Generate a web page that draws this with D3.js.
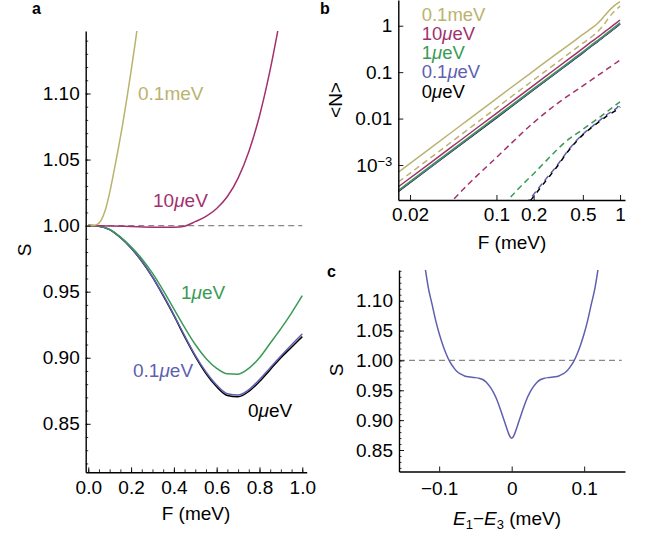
<!DOCTYPE html>
<html>
<head>
<meta charset="utf-8">
<script src="https://cdn.jsdelivr.net/npm/d3@7"></script>
<style>
  body { margin: 0; background: #fff; }
  svg { display: block; }
</style>
</head>
<body>
<svg id="fig" width="654" height="533"></svg>
<script>
// ---- data ----
// panel a: S vs F (meV)
var aKhakiF   = [0, 0.02, 0.04, 0.06, 0.08, 0.10, 0.12, 0.14, 0.16, 0.18, 0.20, 0.22, 0.24];
var aKhakiS   = [1, 1.0001, 1.0008, 1.004, 1.012, 1.025, 1.041, 1.058, 1.076, 1.096, 1.117, 1.139, 1.163];
var aMagentaF = [0, 0.1, 0.2, 0.3, 0.35, 0.4, 0.45, 0.5, 0.55, 0.6, 0.65, 0.7, 0.75, 0.8, 0.85, 0.9];
var aMagentaS = [1, 0.9998, 0.9993, 0.9988, 0.9987, 0.9988, 0.9996, 1.003, 1.007, 1.013, 1.022, 1.036, 1.056, 1.083, 1.118, 1.16];
var aLowF     = [0, 0.05, 0.1, 0.15, 0.2, 0.25, 0.3, 0.35, 0.4, 0.45, 0.5, 0.55, 0.6, 0.65, 0.7, 0.75, 0.8, 0.85, 0.9, 0.95, 1.0];
var aGreenS   = [1, 0.9995, 0.9972, 0.9915, 0.984, 0.975, 0.964, 0.951, 0.937, 0.923, 0.910, 0.8995, 0.892, 0.8878, 0.8876, 0.892, 0.900, 0.911, 0.922, 0.934, 0.947];
var aBlueS    = [1, 0.9995, 0.997, 0.991, 0.983, 0.9732, 0.9613, 0.9475, 0.9325, 0.9167, 0.9018, 0.8892, 0.8793, 0.8728, 0.8718, 0.8758, 0.8835, 0.8925, 0.9013, 0.9098, 0.918];
var aBlackS   = [1, 0.9995, 0.997, 0.991, 0.983, 0.973, 0.961, 0.947, 0.932, 0.916, 0.901, 0.888, 0.878, 0.8715, 0.8705, 0.8745, 0.882, 0.891, 0.900, 0.908, 0.916];

// panel b: <N> vs F (log-log), solid and dashed
var bSolidF   = [0.0161, 0.03, 0.05, 0.1, 0.2, 0.3, 0.4, 0.5, 0.6, 0.65, 0.7, 0.75, 0.8, 0.9, 1.0];
var bKhakiN   = [7.0e-4, 2.43e-3, 6.75e-3, 0.027, 0.107, 0.238, 0.415, 0.65, 0.92, 1.09, 1.33, 1.65, 2.0, 2.7, 3.3];
var bMagentaN = [3.4e-4, 1.17e-3, 3.25e-3, 0.013, 0.052, 0.117, 0.208, 0.325, 0.47, 0.55, 0.64, 0.74, 0.84, 1.07, 1.33];
var bGreenN   = [2.85e-4, 9.9e-4, 2.75e-3, 0.011, 0.044, 0.099, 0.176, 0.275, 0.40, 0.47, 0.545, 0.63, 0.72, 0.92, 1.16];
var bBlueN    = [2.75e-4, 9.5e-4, 2.65e-3, 0.0106, 0.0424, 0.095, 0.169, 0.264, 0.384, 0.45, 0.523, 0.605, 0.69, 0.88, 1.11];
var bBlackN   = [2.7e-4, 9.4e-4, 2.6e-3, 0.0104, 0.0418, 0.094, 0.167, 0.261, 0.38, 0.445, 0.517, 0.6, 0.68, 0.87, 1.1];
var bKhakiDF  = [0.0161, 0.03, 0.05, 0.1, 0.2, 0.3, 0.4, 0.5, 0.6, 0.65, 0.7, 0.75, 0.8, 0.9, 1.0];
var bKhakiDN  = [4.3e-4, 1.5e-3, 4.2e-3, 0.017, 0.068, 0.152, 0.27, 0.42, 0.6, 0.72, 0.88, 1.1, 1.42, 2.05, 2.65];
var bMagentaDF = [0.04, 0.0445, 0.06, 0.1, 0.2, 0.3, 0.5, 0.7, 0.85, 1.0];
var bMagentaDN = [1.3e-4, 1.76e-4, 4.0e-4, 1.45e-3, 8.2e-3, 0.0197, 0.0507, 0.094, 0.135, 0.182];
var bGreenDF  = [0.115, 0.124, 0.15, 0.2, 0.3, 0.35, 0.5, 0.7, 0.85, 1.0];
var bGreenDN  = [1.4e-4, 1.76e-4, 3.05e-4, 6.5e-4, 1.97e-3, 2.92e-3, 5.86e-3, 0.0112, 0.0166, 0.023];
var bBlueDF   = [0.175, 0.184, 0.2, 0.25, 0.3, 0.4, 0.5, 0.6, 0.7, 0.8, 0.9, 0.95, 1.0];
var bBlueDN   = [1.4e-4, 1.76e-4, 2.33e-4, 4.9e-4, 8.8e-4, 2.45e-3, 4.6e-3, 6.9e-3, 9.6e-3, 0.0127, 0.0154, 0.0174, 0.0212];
var bBlackDF  = [0.18, 0.19, 0.2, 0.25, 0.3, 0.4, 0.5, 0.6, 0.7, 0.8, 0.9, 0.95, 1.0];
var bBlackDN  = [1.4e-4, 1.76e-4, 2.1e-4, 4.5e-4, 8.3e-4, 2.35e-3, 4.45e-3, 6.7e-3, 9.1e-3, 0.0119, 0.0143, 0.0157, 0.018];

// panel c: S vs E1-E3 (meV)
var cE = [-0.121, -0.119, -0.115, -0.11, -0.105, -0.1, -0.095, -0.09, -0.085, -0.08, -0.075, -0.07, -0.065, -0.06, -0.055, -0.05, -0.045, -0.04, -0.035, -0.03, -0.025, -0.02, -0.015, -0.01, -0.005, -0.003, -0.001, 0,
          0.001, 0.003, 0.005, 0.01, 0.015, 0.02, 0.025, 0.03, 0.035, 0.04, 0.045, 0.05, 0.055, 0.06, 0.065, 0.07, 0.075, 0.08, 0.085, 0.09, 0.095, 0.1, 0.105, 0.11, 0.115, 0.119, 0.121];
var cS = [1.168, 1.152, 1.122, 1.095, 1.068, 1.045, 1.026, 1.01, 0.997, 0.988, 0.981, 0.977, 0.974, 0.9725, 0.972, 0.9712, 0.970, 0.968, 0.9635, 0.956, 0.946, 0.933, 0.916, 0.898, 0.880, 0.874, 0.8705, 0.8698,
          0.8705, 0.874, 0.880, 0.898, 0.916, 0.933, 0.946, 0.956, 0.9635, 0.968, 0.970, 0.9712, 0.972, 0.9725, 0.974, 0.977, 0.981, 0.988, 0.997, 1.01, 1.026, 1.045, 1.068, 1.095, 1.122, 1.152, 1.168];

var seriesLabels = ['0.1meV', '10\u03BCeV', '1\u03BCeV', '0.1\u03BCeV', '0\u03BCeV'];
var seriesColors = ['#bab36e', '#a3306f', '#3a9a55', '#5f5fb0', '#000000'];

var aYMajor = [0.85, 0.90, 0.95, 1.00, 1.05, 1.10];
var aXMajor = [0, 0.2, 0.4, 0.6, 0.8, 1.0];
var bYMajor = [1e-3, 0.01, 0.1, 1];
var bXMajor = [0.02, 0.1, 0.2, 0.5, 1];
var cYMajor = [0.85, 0.90, 0.95, 1.00, 1.05, 1.10];
var cXMajor = [-0.1, 0, 0.1];

// ---- drawing ----
var FONT = '"Liberation Sans", Arial, Helvetica, sans-serif';
var FS = 19;
var svg = d3.select('#fig').attr('font-family', FONT);

function zip(xs, ys) { return xs.map(function(x, i) { return [x, ys[i]]; }); }
function range(a, b, step) {
  var out = [];
  for (var i = 0; a + i * step <= b + 1e-9; i++) out.push(+(a + i * step).toFixed(4));
  return out;
}

function styleAxis(g) {
  g.attr('font-family', FONT).attr('font-size', FS);
  g.select('.domain').attr('stroke-width', 1.4);
  g.selectAll('.tick line').attr('stroke-width', 0.9);
}

function addLeft(x0, y, major, minor, fmt) {
  if (minor) {
    svg.append('g').attr('transform', 'translate(' + x0 + ',0)')
      .call(d3.axisLeft(y).tickValues(minor).tickSize(-2.5).tickFormat(''))
      .call(function(g) { g.select('.domain').remove(); g.selectAll('line').attr('stroke-width', 0.8); });
  }
  var g = svg.append('g').attr('transform', 'translate(' + x0 + ',0)')
    .call(d3.axisLeft(y).tickValues(major).tickSize(-5).tickSizeOuter(0).tickPadding(6).tickFormat(fmt));
  styleAxis(g);
  return g;
}

function addBottom(y0, x, major, minor, fmt, pad) {
  if (minor) {
    svg.append('g').attr('transform', 'translate(0,' + y0 + ')')
      .call(d3.axisBottom(x).tickValues(minor).tickSize(-3).tickFormat(''))
      .call(function(g) { g.select('.domain').remove(); g.selectAll('line').attr('stroke-width', 0.8); });
  }
  var g = svg.append('g').attr('transform', 'translate(0,' + y0 + ')')
    .call(d3.axisBottom(x).tickValues(major).tickSize(-5).tickSizeOuter(0).tickPadding(pad).tickFormat(fmt));
  styleAxis(g);
  return g;
}

function muText(sel, label) {
  var parts = label.split('\u03BC');
  sel.append('tspan').text(parts[0]);
  if (parts.length > 1) {
    sel.append('tspan').attr('font-style', 'italic').text('\u03BC');
    sel.append('tspan').text(parts[1]);
  }
}

function curve(g, x, y, pts, color, dash, offset) {
  g.append('path')
    .datum(pts)
    .attr('fill', 'none')
    .attr('stroke', color)
    .attr('stroke-width', 1.5)
    .attr('stroke-dasharray', dash || null)
    .attr('stroke-dashoffset', offset || null)
    .attr('d', d3.line().x(function(d) { return x(d[0]); }).y(function(d) { return y(d[1]); }).curve(d3.curveMonotoneX));
}

function clipRect(id, x0, y0, x1, y1) {
  svg.append('clipPath').attr('id', id).append('rect')
    .attr('x', x0).attr('y', y0).attr('width', x1 - x0).attr('height', y1 - y0);
  return svg.append('g').attr('clip-path', 'url(#' + id + ')');
}

var fmt2 = function(d) { return d.toFixed(2); };

// ===== panel a =====
var ax = d3.scaleLinear().domain([-0.012, 1.0206]).range([85.7, 306.7]);
var ay = d3.scaleLinear().domain([0.8133, 1.1473]).range([472.3, 31]);
var aPlot = clipRect('clipA', 85.7, 31, 306.7, 472.3);

aPlot.append('line')
  .attr('x1', ax(0)).attr('x2', ax(1)).attr('y1', ay(1)).attr('y2', ay(1))
  .attr('stroke', '#888').attr('stroke-width', 1.2).attr('stroke-dasharray', '6,4');

curve(aPlot, ax, ay, zip(aLowF, aBlackS), seriesColors[4]);
curve(aPlot, ax, ay, zip(aLowF, aBlueS), seriesColors[3]);
curve(aPlot, ax, ay, zip(aLowF, aGreenS), seriesColors[2]);
curve(aPlot, ax, ay, zip(aMagentaF, aMagentaS), seriesColors[1]);
curve(aPlot, ax, ay, zip(aKhakiF, aKhakiS), seriesColors[0]);

addLeft(85.7, ay, aYMajor, range(0.82, 1.14, 0.01), fmt2);
addBottom(472.3, ax, aXMajor, range(0, 1, 0.05), function(d) { return d.toFixed(1); }, 8);

var aLabels = [
  { i: 0, x: 138, y: 100 },
  { i: 1, x: 153, y: 207 },
  { i: 2, x: 181, y: 299 },
  { i: 3, x: 133, y: 377 },
  { i: 4, x: 248, y: 417 }
];
aLabels.forEach(function(l) {
  var t = svg.append('text').attr('x', l.x).attr('y', l.y)
    .attr('font-size', FS).attr('fill', seriesColors[l.i]);
  muText(t, seriesLabels[l.i]);
});

svg.append('text').attr('x', 196).attr('y', 520).attr('text-anchor', 'middle')
  .attr('font-size', FS).text('F (meV)');
svg.append('text').attr('transform', 'translate(31,250) rotate(-90)').attr('text-anchor', 'middle')
  .attr('font-size', FS).text('S');
svg.append('text').attr('x', 32).attr('y', 14).attr('font-size', 16).attr('font-weight', 'bold').text('a');

// ===== panel b =====
var bx = d3.scaleLog().domain([Math.pow(10, -1.794), Math.pow(10, 0.04)]).range([398.3, 625]);
var by = d3.scaleLog().domain([Math.pow(10, -3.754), Math.pow(10, 0.554)]).range([200, 0]);
var bPlot = clipRect('clipB', 398.3, 0, 625, 200);
var dash = '6,4';

curve(bPlot, bx, by, zip(bKhakiDF, bKhakiDN), seriesColors[0], dash);
curve(bPlot, bx, by, zip(bMagentaDF, bMagentaDN), seriesColors[1], dash);
curve(bPlot, bx, by, zip(bGreenDF, bGreenDN), seriesColors[2], dash);
curve(bPlot, bx, by, zip(bBlueDF, bBlueDN), seriesColors[3], dash);
curve(bPlot, bx, by, zip(bBlackDF, bBlackDN), seriesColors[4], '5,5', 5);

curve(bPlot, bx, by, zip(bSolidF, bBlackN), seriesColors[4]);
curve(bPlot, bx, by, zip(bSolidF, bBlueN), seriesColors[3]);
curve(bPlot, bx, by, zip(bSolidF, bGreenN), seriesColors[2]);
curve(bPlot, bx, by, zip(bSolidF, bMagentaN), seriesColors[1]);
curve(bPlot, bx, by, zip(bSolidF, bKhakiN), seriesColors[0]);

var bLeft = addLeft(398.3, by, bYMajor, null, function(d) { return d === 1e-3 ? '' : String(d); });
bLeft.selectAll('.tick text').filter(function(d) { return d === 1e-3; })
  .each(function() {
    var t = d3.select(this);
    t.append('tspan').text('10');
    t.append('tspan').attr('dy', '-0.45em').attr('font-size', 13).text('\u22123');
  });
addBottom(200, bx, bXMajor, null, function(d) { return String(d); }, 8);

seriesLabels.forEach(function(lab, i) {
  var t = svg.append('text').attr('x', 421.7).attr('y', 20.5 + 19.3 * i)
    .attr('font-size', 18.5).attr('fill', seriesColors[i]);
  muText(t, lab);
});

svg.append('text').attr('x', 512).attr('y', 249).attr('text-anchor', 'middle')
  .attr('font-size', FS).text('F (meV)');
svg.append('text').attr('transform', 'translate(342,100) rotate(-90)').attr('text-anchor', 'middle')
  .attr('font-size', FS).text('<N>');
svg.append('text').attr('x', 320).attr('y', 14).attr('font-size', 16).attr('font-weight', 'bold').text('b');

// ===== panel c =====
var cx = d3.scaleLinear().domain([-0.1554, 0.1563]).range([399, 625]);
var cy = d3.scaleLinear().domain([0.814, 1.1514]).range([471.5, 270]);
var cPlot = clipRect('clipC', 399, 270, 625, 471.5);

cPlot.append('line')
  .attr('x1', 399).attr('x2', 621.7).attr('y1', cy(1)).attr('y2', cy(1))
  .attr('stroke', '#888').attr('stroke-width', 1.2).attr('stroke-dasharray', '6,4');
curve(cPlot, cx, cy, zip(cE, cS), seriesColors[3]);

addLeft(399, cy, cYMajor, range(0.82, 1.15, 0.01), fmt2);
addBottom(471.5, cx, cXMajor, null, function(d) { return d === 0 ? '0' : (d < 0 ? '\u2212' : '') + Math.abs(d); }, 10);

var cxt = svg.append('text').attr('x', 507).attr('y', 525).attr('text-anchor', 'middle').attr('font-size', FS);
cxt.append('tspan').attr('font-style', 'italic').text('E');
cxt.append('tspan').attr('font-size', 13).attr('dy', 4).text('1');
cxt.append('tspan').attr('dy', -4).text('\u2212');
cxt.append('tspan').attr('font-style', 'italic').text('E');
cxt.append('tspan').attr('font-size', 13).attr('dy', 4).text('3');
cxt.append('tspan').attr('dy', -4).text(' (meV)');

svg.append('text').attr('transform', 'translate(343,370) rotate(-90)').attr('text-anchor', 'middle')
  .attr('font-size', FS).text('S');
svg.append('text').attr('x', 327).attr('y', 277).attr('font-size', 16).attr('font-weight', 'bold').text('c');
</script>
</body>
</html>
